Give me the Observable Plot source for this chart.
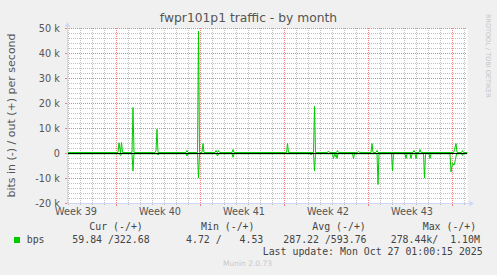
<!DOCTYPE html>
<html><head><meta charset="utf-8">
<script src="https://cdn.jsdelivr.net/npm/d3@7"></script>
<script src="https://cdn.jsdelivr.net/npm/@observablehq/plot@0.6"></script>
<style>
html,body{margin:0;padding:0;background:#f0f0f0;}
#wrap{position:relative;width:497px;height:275px;background:#f0f0f0;overflow:hidden;font-family:"DejaVu Sans",sans-serif;color:#555;}
#chart{position:absolute;left:0;top:0;}
.t{position:absolute;white-space:pre;line-height:1;}
.mono{font-family:"DejaVu Sans Mono",monospace;font-size:9.9px;color:#444;}
</style></head><body>
<div id="wrap">
  <div id="chart"></div>
  <div class="t" style="left:0;width:497px;text-align:center;top:12px;font-size:12.3px;">fwpr101p1 traffic - by month</div>
  <div class="t" style="left:-89px;top:110px;width:200px;text-align:center;font-size:11px;transform:rotate(-90deg);">bits in (-) / out (+) per second</div>
  <div class="t" style="left:484px;top:14px;font-size:6.5px;color:#c4c4c4;writing-mode:vertical-rl;">RRDTOOL / TOBI OETIKER</div>
  <div class="t mono" style="left:89.3px;top:222.4px;">Cur (-/+)</div>
  <div class="t mono" style="left:201px;top:222.4px;">Min (-/+)</div>
  <div class="t mono" style="left:312.3px;top:222.4px;">Avg (-/+)</div>
  <div class="t mono" style="left:422.7px;top:222.4px;">Max (-/+)</div>
  <div style="position:absolute;left:14px;top:237px;width:6px;height:6px;background:#00cc00;"></div>
  <div class="t mono" style="left:26.7px;top:234.9px;">bps</div>
  <div class="t mono" style="left:72.3px;top:234.9px;">59.84 /322.68</div>
  <div class="t mono" style="left:186px;top:234.9px;">4.72 /   4.53</div>
  <div class="t mono" style="left:283.3px;top:234.9px;">287.22 /593.76</div>
  <div class="t mono" style="left:390.7px;top:234.9px;">278.44k/  1.10M</div>
  <div class="t mono" style="right:14.3px;top:246.5px;">Last update: Mon Oct 27 01:00:15 2025</div>
  <div class="t" style="left:0;width:495px;text-align:center;top:260.2px;font-size:7.5px;color:#c8c8c8;">Munin 2.0.73</div>
</div>
<script>
// ---- data (values in bits per second, thousands) ----
const outTraffic = [
  ["09-23 22",0.4],
  ["09-28 03",0.4],["09-28 05",4.3],["09-28 08",0.3],["09-28 10",4.4],["09-28 12",0.4],
  ["09-29 07",0.4],["09-29 09",18.4],["09-29 11",0.4],
  ["10-01 05",0.4],["10-01 07",1.2],["10-01 09",9.7],["10-01 11",0.4],
  ["10-03 19",0.4],["10-03 21",1.2],["10-03 23",0.4],
  ["10-04 18",0.4],["10-04 20",49],["10-04 22",0.4],
  ["10-05 03",0.4],["10-05 05",4],["10-05 07",0.4],
  ["10-06 05",0.4],["10-06 07",1.2],["10-06 09",0.4],["10-06 10",0.4],["10-06 12",1.2],["10-06 14",0.4],
  ["10-07 15",0.4],["10-07 17",1.6],["10-07 19",0.4],
  ["10-12 04",0.4],["10-12 06",4],["10-12 08",0.4],
  ["10-14 10",0.4],["10-14 12",18.9],["10-14 14",0.4],
  ["10-15 14",0.4],["10-15 16",1],["10-15 18",0.4],
  ["10-16 08",0.4],["10-16 10",1.2],["10-16 12",0.4],
  ["10-18 02",0.4],["10-18 04",0.9],["10-18 06",0.4],
  ["10-19 05",0.4],["10-19 07",4],["10-19 09",0.4],
  ["10-19 15",0.4],["10-19 17",1.2],["10-19 19",0.4],
  ["10-22 17",0.4],["10-22 19",1.2],["10-22 21",0.4],
  ["10-23 05",0.4],["10-23 07",1.6],["10-23 09",0.4],
  ["10-26 02",0.4],["10-26 04",1.5],["10-26 07",4],["10-26 09",0.4],
  ["10-26 18",0.4],["10-26 20",1.2],["10-26 22",0.4],
  ["10-27 05",0.4]
];
const inTraffic = [
  ["09-23 22",-0.1],
  ["09-28 06",-0.1],["09-28 08",-0.8],["09-28 10",-0.1],
  ["09-29 07",-0.1],["09-29 09",-7],["09-29 11",-0.1],
  ["10-01 09",-0.1],["10-01 11",-0.6],["10-01 13",-0.1],
  ["10-03 19",-0.1],["10-03 21",-1],["10-03 23",-0.1],
  ["10-04 18",-0.1],["10-04 20",-9.8],["10-04 22",-0.1],
  ["10-06 08",-0.1],["10-06 10",-1],["10-06 12",-0.1],
  ["10-07 15",-0.1],["10-07 17",-1.5],["10-07 19",-0.1],
  ["10-14 03",-0.1],["10-14 05",-0.6],["10-14 07",-0.1],
  ["10-14 10",-0.1],["10-14 12",-7],["10-14 14",-0.1],
  ["10-16 00",-0.1],["10-16 02",-2],["10-16 04",-0.3],["10-16 06",-1.2],["10-16 07",-0.3],["10-16 09",-2],["10-16 11",-0.1],
  ["10-17 16",-0.1],["10-17 18",-2],["10-17 20",-0.1],
  ["10-19 17",-0.1],["10-19 19",-12.4],["10-19 21",-0.1],
  ["10-20 22",-0.1],["10-21 00",-7],["10-21 02",-0.1],
  ["10-22 01",-0.1],["10-22 03",-2],["10-22 05",-0.1],
  ["10-22 11",-0.1],["10-22 13",-2],["10-22 15",-0.1],
  ["10-22 21",-0.1],["10-22 23",-2],["10-23 01",-0.1],
  ["10-23 14",-0.1],["10-23 16",-9.8],["10-23 18",-0.1],
  ["10-24 01",-0.1],["10-24 03",-2],["10-24 05",-0.1],
  ["10-25 19",-0.1],["10-25 21",-7.4],["10-26 00",-4],["10-26 03",-4.6],["10-26 06",-2.4],["10-26 08",-0.1],
  ["10-26 18",-0.1],["10-26 20",-0.8],["10-26 22",-0.1],
  ["10-27 05",-0.1]
];
const yTicks = [-20000,-10000,0,10000,20000,30000,40000,50000];
const yTickLabels = ["-20 k","-10 k","0","10 k","20 k","30 k","40 k","50 k"];
const weekLabels = ["Week 39","Week 40","Week 41","Week 42","Week 43"];
const weekLabelTimes = ["09-24 15:00","10-01 15:00","10-08 15:00","10-15 15:00","10-22 15:00"];
const timeStart = "2025-09-23T22:00Z", timeEnd = "2025-10-27T06:00Z";

// ---- build ----
const parseT = s => new Date(`2025-${s.slice(0,5)}T${s.slice(6).length===2 ? s.slice(6)+":00" : s.slice(6)}:00Z`);
const toRows = arr => arr.map(([t,v]) => ({t: parseT(t), v: v*1000}));
const outRows = toRows(outTraffic), inRows = toRows(inTraffic);
const start = new Date(timeStart), end = new Date(timeEnd);
const weekLines = d3.utcSunday.range(start, end);
const dayLines = d3.utcDay.range(start, end).filter(d => d.getUTCDay() !== 0);
const yMinor = d3.range(-20000, 50001, 2000).filter(v => v % 10000 !== 0);
const labelTimes = weekLabelTimes.map(parseT);
const labelMap = new Map(labelTimes.map((d,i) => [+d, weekLabels[i]]));
const yLabelMap = new Map(yTicks.map((d,i) => [d, yTickLabels[i]]));
const hr = 3600e3;
const axisCol = "#cfd6f8", minorCol = "#c0c0c0", majorCol = "#f08080";
const dot = {strokeDasharray: "1,1"};
const crisp = {shapeRendering: "crispEdges"};

const chart = Plot.plot({
  width: 497, height: 275,
  marginLeft: 67, marginRight: 30, marginTop: 28, marginBottom: 72,
  style: {background: "transparent", fontFamily: "DejaVu Sans", fontSize: "9.7px", color: "#555", overflow: "visible"},
  x: {type: "utc", domain: [start, end], label: null},
  y: {domain: [-20000, 50000], label: null},
  marks: [
    Plot.frame({fill: "white", stroke: "none"}),
    Plot.ruleY(yMinor, {stroke: minorCol, ...dot}),
    Plot.ruleX(dayLines, {stroke: minorCol, ...dot}),
    Plot.ruleY(yTicks, {stroke: majorCol, ...dot}),
    Plot.ruleX(weekLines, {stroke: majorCol, ...dot}),
    // small ticks outside the frame
    Plot.ruleY(yTicks, {x1: new Date(+start - 4*hr), x2: start, stroke: majorCol, ...crisp}),
    Plot.ruleX(weekLines, {y1: -20000, y2: -21200, stroke: majorCol, ...crisp}),
    Plot.ruleX(dayLines, {y1: -20000, y2: -20800, stroke: minorCol, ...crisp}),
    // data
    Plot.line(outRows, {x: "t", y: "v", stroke: "#00cc00", strokeWidth: 1}),
    Plot.line(inRows, {x: "t", y: "v", stroke: "#00cc00", strokeWidth: 1}),
    Plot.ruleY([0], {stroke: "#000", strokeWidth: 1, ...crisp}),
    // axis lines with arrows
    Plot.ruleX([start], {y1: -20000, y2: 52000, stroke: axisCol, ...crisp}),
    Plot.ruleY([-20000], {x1: start, x2: new Date(+end + 6*hr), stroke: axisCol, ...crisp}),
    Plot.dot([{t: start, v: 51300}], {x: "t", y: "v", symbol: "triangle", r: 2, fill: axisCol, stroke: null}),
    Plot.dot([{t: new Date(+end + 7*hr), v: -20000}], {x: "t", y: "v", symbol: "triangle", r: 2, rotate: 90, fill: axisCol, stroke: null}),
    // tick labels
    Plot.axisY(yTicks, {tickSize: 0, tickPadding: 7.7, tickFormat: d => yLabelMap.get(d), fill: "#555"}),
    Plot.axisX(labelTimes, {tickSize: 0, tickPadding: 5, tickFormat: d => labelMap.get(+d), fill: "#555"})
  ]
});
document.getElementById("chart").appendChild(chart);
</script>
</body></html>
